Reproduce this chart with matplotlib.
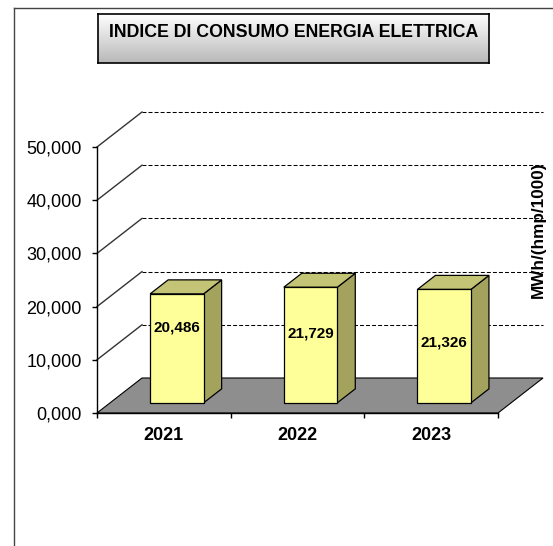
import numpy as np
import matplotlib
matplotlib.use("Agg")
import matplotlib.pyplot as plt
from matplotlib.patches import Polygon, Rectangle
from matplotlib.lines import Line2D
from matplotlib.colors import LinearSegmentedColormap

# --- data ---
years = ["2021", "2022", "2023"]
values = [20.486, 21.729, 21.326]
yticks = [0, 10, 20, 30, 40, 50]
title = "INDICE DI CONSUMO ENERGIA ELETTRICA"
unit_label = "MWh/(hmp/1000)"

# --- style / layout ---
W, H = 553, 546
FRONT = "#FFFF99"
TOP = "#C4C476"
SIDE = "#A3A35E"
FLOOR = "#8E8E8E"
DX = 45 / (401 / 3)      # depth shift in category units
DY = 35 / 266 * 50       # depth shift in value units
BAR_W = 0.40
BAR_POS = 0.29           # bar front at this fraction of depth
BAR_D = 0.40             # bar depth as fraction of depth
label_frac = [0.69, 0.60, 0.53]

plt.rcParams['font.family'] = ['Liberation Sans', 'DejaVu Sans']

fig = plt.figure(figsize=(W / 100, H / 100), dpi=100)
ax = fig.add_axes([97 / W, (H - 413) / H, 401 / W, 266 / H])
ax.set_xlim(0, 3)
ax.set_ylim(0, 50)
for s in ["top", "right"]:
    ax.spines[s].set_visible(False)
ax.spines["left"].set_linewidth(1.0)
ax.spines["bottom"].set_linewidth(1.0)
ax.patch.set_visible(False)

ax.set_yticks(yticks)
ax.set_yticklabels([f"{v:.3f}".replace(".", ",") for v in yticks], fontsize=13)
ax.tick_params(axis="y", direction="out", length=3.6, width=1, pad=7.5)
ax.set_xticks(np.arange(0, 4))
ax.set_xticklabels([])
ax.tick_params(axis="x", which="major", direction="out", length=3.6, width=1)
ax.set_xticks(np.arange(len(years)) + 0.5, minor=True)
ax.set_xticklabels(years, minor=True, fontsize=13, fontweight="bold")
ax.tick_params(axis="x", which="minor", length=0, pad=10)

# back wall gridlines + diagonals
for v in yticks[1:]:
    ax.plot([DX, 3 + DX], [v + DY, v + DY], color="black", lw=0.75,
            ls=(0, (3.8, 2)), clip_on=False, zorder=1)
    ax.plot([0, DX], [v, v + DY], color="#333333", lw=1.0,
            clip_on=False, zorder=1)

# floor
floor = Polygon([(0, 0), (3, 0), (3 + DX, DY), (DX, DY)], closed=True,
                facecolor=FLOOR, edgecolor="black", lw=0.8,
                clip_on=False, zorder=2)
ax.add_patch(floor)

# bars
for i, v in enumerate(values):
    x0 = i + 0.5 - BAR_W / 2 + BAR_POS * DX
    y0 = BAR_POS * DY
    bx, by = BAR_D * DX, BAR_D * DY
    side = Polygon([(x0 + BAR_W, y0), (x0 + BAR_W + bx, y0 + by),
                    (x0 + BAR_W + bx, y0 + v + by), (x0 + BAR_W, y0 + v)],
                   closed=True, facecolor=SIDE, edgecolor="black", lw=0.9,
                   clip_on=False, zorder=3)
    top = Polygon([(x0, y0 + v), (x0 + BAR_W, y0 + v),
                   (x0 + BAR_W + bx, y0 + v + by), (x0 + bx, y0 + v + by)],
                  closed=True, facecolor=TOP, edgecolor="black", lw=0.9,
                  clip_on=False, zorder=3)
    front = Rectangle((x0, y0), BAR_W, v, facecolor=FRONT,
                      edgecolor="black", lw=0.9, clip_on=False, zorder=4)
    for p in (side, top, front):
        ax.add_patch(p)
    ax.text(x0 + BAR_W / 2, y0 + v * label_frac[i],
            f"{v:.3f}".replace(".", ","), ha="center", va="center",
            fontsize=11, fontweight="bold", zorder=5)

# unit label on the right
fig.text(538 / W, 1 - 230 / H, unit_label, rotation=90, ha="center",
         va="center", fontsize=12.3, fontweight="bold")

# title box with gradient
tax = fig.add_axes([98 / W, 1 - 63 / H, 391 / W, 49 / H])
grad = np.linspace(1, 0, 256).reshape(-1, 1)
tax.imshow(grad, aspect="auto",
           cmap=LinearSegmentedColormap.from_list("g", ["#B8B8B8", "#FFFFFF"]),
           extent=[0, 1, 0, 1], vmin=0, vmax=1)
tax.set_xticks([])
tax.set_yticks([])
for s in tax.spines.values():
    s.set_linewidth(1.2)
tax.text(0.5, 0.63, title, ha="center", va="center", fontsize=12.8,
         fontweight="bold", transform=tax.transAxes)

# outer chart frame (left and top)
fig.add_artist(Line2D([14 / W, 14 / W], [0, 1 - 8 / H], transform=fig.transFigure,
                      color="#444444", lw=1))
fig.add_artist(Line2D([14 / W, 1], [1 - 8 / H, 1 - 8 / H], transform=fig.transFigure,
                      color="#444444", lw=1))

fig.savefig("out.png", dpi=100)
